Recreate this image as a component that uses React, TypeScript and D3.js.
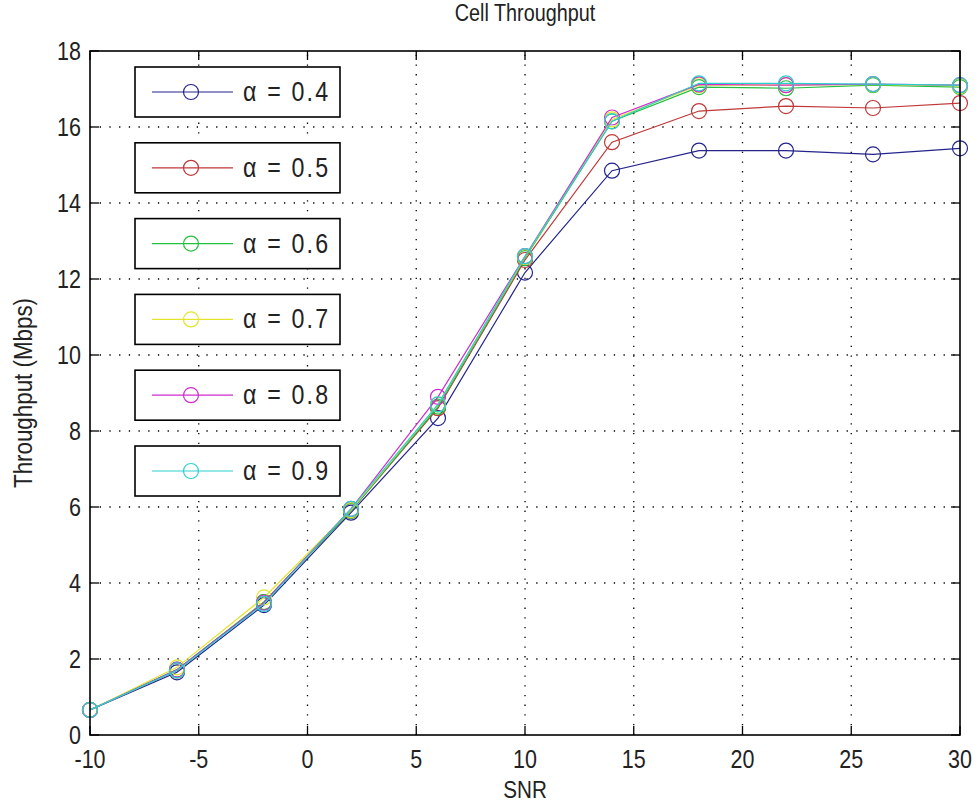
import React from 'react';
import * as d3 from 'd3';

const snr = [-10, -6, -2, 2, 6, 10, 14, 18, 22, 26, 30];
const alphaLabels = ['α = 0.4', 'α = 0.5', 'α = 0.6', 'α = 0.7', 'α = 0.8', 'α = 0.9'];
const alpha04 = [0.66, 1.65, 3.42, 5.85, 8.34, 12.17, 14.85, 15.38, 15.38, 15.28, 15.44];
const alpha05 = [0.66, 1.7, 3.5, 5.9, 8.6, 12.5, 15.6, 16.42, 16.55, 16.5, 16.63];
const alpha06 = [0.66, 1.72, 3.5, 5.9, 8.64, 12.55, 16.15, 17.05, 17.02, 17.1, 17.05];
const alpha07 = [0.66, 1.78, 3.62, 5.92, 8.7, 12.58, 16.2, 17.1, 17.1, 17.12, 17.08];
const alpha08 = [0.66, 1.72, 3.48, 5.95, 8.9, 12.6, 16.25, 17.12, 17.1, 17.13, 17.1];
const alpha09 = [0.66, 1.7, 3.45, 5.95, 8.7, 12.6, 16.15, 17.15, 17.15, 17.13, 17.1];
const xTicks = [-10, -5, 0, 5, 10, 15, 20, 25, 30];
const yTicks = [0, 2, 4, 6, 8, 10, 12, 14, 16, 18];

const colors = ['#24248c', '#c03838', '#24c040', '#e4e42c', '#d02cd0', '#2cd0d0'];
const seriesValues = [alpha04, alpha05, alpha06, alpha07, alpha08, alpha09];

const W = 977;
const H = 808;
const margin = { left: 90, right: 17, top: 51, bottom: 73 };
const font = '"Liberation Sans", Arial, sans-serif';
const sx = 0.86;

export default function App() {
  const x = d3.scaleLinear().domain([-10, 30]).range([margin.left, W - margin.right]);
  const y = d3.scaleLinear().domain([0, 18]).range([H - margin.bottom, margin.top]);
  const x0 = x.range()[0], x1 = x.range()[1];
  const y0 = y.range()[0], y1 = y.range()[1];

  const line = d3.line<number>()
    .x((_, i) => x(snr[i]))
    .y(d => y(d));

  const series = seriesValues.map((values, i) => ({ values, color: colors[i], label: alphaLabels[i] }));

  const legendTop = 67;
  const legendStep = 75.8;
  const boxH = 50;

  return (
    <svg width={W} height={H} style={{ position: 'absolute', left: 0, top: 0, background: '#fff' }}
      fontFamily={font}>
      <rect x={0} y={0} width={W} height={H} fill="#fff" />
      {/* grid */}
      {xTicks.filter(t => t > -10 && t < 30).map(t => (
        <line key={'gx' + t} x1={x(t)} x2={x(t)} y1={y0} y2={y1}
          stroke="#000" strokeWidth={1.3} strokeDasharray="1.3,8.4" />
      ))}
      {yTicks.filter(t => t > 0 && t < 18).map(t => (
        <line key={'gy' + t} x1={x0} x2={x1} y1={y(t)} y2={y(t)}
          stroke="#000" strokeWidth={1.3} strokeDasharray="1.3,8.4" />
      ))}
      {/* ticks */}
      {xTicks.map(t => (
        <g key={'tx' + t}>
          <line x1={x(t)} x2={x(t)} y1={y0} y2={y0 - 9} stroke="#000" strokeWidth={1.3} />
          <line x1={x(t)} x2={x(t)} y1={y1} y2={y1 + 9} stroke="#000" strokeWidth={1.3} />
          <text transform={`translate(${x(t)},${y0 + 33}) scale(${sx},1)`} textAnchor="middle"
            fontSize={25} fill="#222">{t}</text>
        </g>
      ))}
      {yTicks.map(t => (
        <g key={'ty' + t}>
          <line x1={x0} x2={x0 + 9} y1={y(t)} y2={y(t)} stroke="#000" strokeWidth={1.3} />
          <line x1={x1} x2={x1 - 9} y1={y(t)} y2={y(t)} stroke="#000" strokeWidth={1.3} />
          <text transform={`translate(${x0 - 9},${y(t) + 9}) scale(${sx},1)`} textAnchor="end"
            fontSize={25} fill="#222">{t}</text>
        </g>
      ))}
      {/* series */}
      {series.map((s, i) => (
        <g key={'s' + i}>
          <path d={line(s.values) || ''} fill="none" stroke={s.color} strokeWidth={1.2} />
          {s.values.map((v, j) => (
            <circle key={j} cx={x(snr[j])} cy={y(v)} r={7.5} fill="none" stroke={s.color} strokeWidth={1.2} />
          ))}
        </g>
      ))}
      {/* axes box */}
      <rect x={x0} y={y1} width={x1 - x0} height={y0 - y1} fill="none" stroke="#000" strokeWidth={1.6} />
      {/* legend boxes */}
      {series.map((s, i) => {
        const top = legendTop + i * legendStep;
        const cy = top + boxH / 2;
        return (
          <g key={'lg' + i}>
            <rect x={135} y={top} width={205} height={boxH} fill="#fff" stroke="#000" strokeWidth={1.6} />
            <line x1={152} x2={233} y1={cy} y2={cy} stroke={s.color} strokeWidth={1.2} />
            <circle cx={191} cy={cy} r={7.5} fill="none" stroke={s.color} strokeWidth={1.2} />
            <text transform={`translate(243,${cy + 9}) scale(${sx},1)`} fontSize={27} letterSpacing={2.5}
              fill="#222">{s.label}</text>
          </g>
        );
      })}
      {/* labels */}
      <text transform={`translate(${(x0 + x1) / 2},21) scale(${sx},1)`} textAnchor="middle"
        fontSize={23} fill="#222">Cell Throughput</text>
      <text transform={`translate(${(x0 + x1) / 2},798) scale(${sx},1)`} textAnchor="middle"
        fontSize={24} fill="#222">SNR</text>
      <text transform={`translate(32,${(y0 + y1) / 2}) rotate(-90) scale(${sx},1)`} textAnchor="middle"
        fontSize={26} fill="#222">Throughput (Mbps)</text>
    </svg>
  );
}
